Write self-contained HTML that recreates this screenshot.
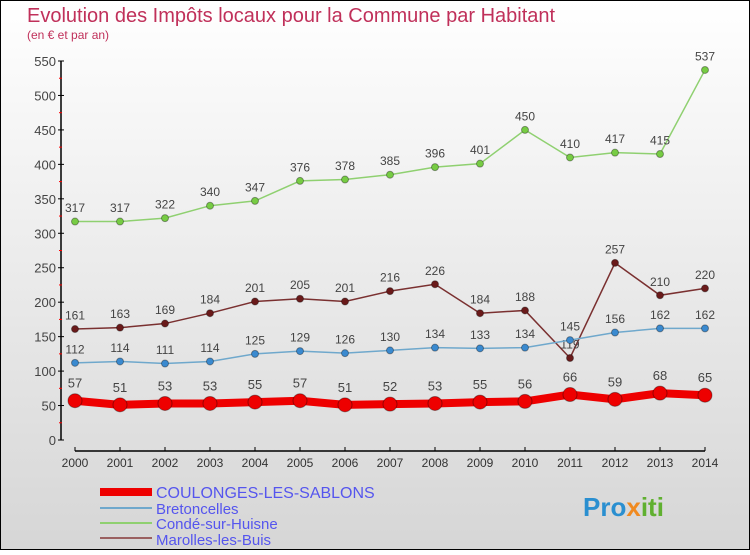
<!DOCTYPE html>
<html><head><meta charset="utf-8"><style>
body{margin:0;width:750px;height:550px;overflow:hidden;font-family:"Liberation Sans",sans-serif}
</style></head><body>
<svg id="c" width="750" height="550" xmlns="http://www.w3.org/2000/svg">
<defs><linearGradient id="bg" x1="0" y1="0" x2="0" y2="1"><stop offset="0" stop-color="#ffffff"/><stop offset="1" stop-color="#d6d6d6"/></linearGradient></defs>
<rect x="0.5" y="0.5" width="749" height="549" fill="url(#bg)" stroke="#000"/>
<text x="27" y="22" font-size="20" fill="#c0305a">Evolution des Impôts locaux pour la Commune par Habitant</text>
<text x="27" y="39" font-size="12" fill="#c0305a">(en € et par an)</text>
<g id="axes"></g>
<g id="series"></g>
<g>
<line x1="100" y1="492" x2="152" y2="492" stroke="#ee0000" stroke-width="8"/>
<text x="156" y="498" font-size="16" fill="#5555ee">COULONGES-LES-SABLONS</text>
<line x1="100" y1="508" x2="152" y2="508" stroke="#6fa8cc" stroke-width="2"/>
<text x="156" y="514" font-size="15" fill="#5555ee">Bretoncelles</text>
<line x1="100" y1="523" x2="152" y2="523" stroke="#8fd070" stroke-width="2"/>
<text x="156" y="529" font-size="15" fill="#5555ee">Condé-sur-Huisne</text>
<line x1="100" y1="538" x2="152" y2="538" stroke="#9a6060" stroke-width="2"/>
<text x="156" y="545" font-size="15" fill="#5555ee">Marolles-les-Buis</text>
</g>
<text x="583" y="516" font-size="26" font-weight="bold" fill="#2a8fd0">Pro<tspan fill="#f08a20">x</tspan><tspan fill="#60b030">iti</tspan></text>
</svg>
<script>
const years=[2000,2001,2002,2003,2004,2005,2006,2007,2008,2009,2010,2011,2012,2013,2014];
const yTicks=[0,50,100,150,200,250,300,350,400,450,500,550];
const coulonges=[57,51,53,53,55,57,51,52,53,55,56,66,59,68,65];
const bretoncelles=[112,114,111,114,125,129,126,130,134,133,134,145,156,162,162];
const conde=[317,317,322,340,347,376,378,385,396,401,450,410,417,415,537];
const marolles=[161,163,169,184,201,205,201,216,226,184,188,119,257,210,220];
const NS='http://www.w3.org/2000/svg';
const X=i=>75+i*45, Y=v=>440-v*(379/550);
function mk(t,a,p){const e=document.createElementNS(NS,t);for(const k in a)e.setAttribute(k,a[k]);p.appendChild(e);return e;}
const ax=document.getElementById('axes');
let l=mk('line',{x1:61,y1:Y(550),x2:61,y2:440,stroke:'#000','stroke-width':1.5},ax);


l=mk('line',{x1:75,y1:451,x2:705,y2:451,stroke:'#000','stroke-width':1.5},ax);


yTicks.forEach((v,i)=>{
 mk('line',{x1:58,y1:Y(v),x2:64,y2:Y(v),stroke:'#000'},ax);
 if(i<yTicks.length-1) mk('line',{x1:59,y1:Y(v+25),x2:62,y2:Y(v+25),stroke:'#f00'},ax);
 const t=mk('text',{x:56,y:Y(v)+5,'font-size':13,fill:'#444','text-anchor':'end'},ax);t.textContent=v;
 
 
});
years.forEach((y,i)=>{
 mk('line',{x1:X(i),y1:447,x2:X(i),y2:451,stroke:'#000'},ax);
 const t=mk('text',{x:X(i),y:467,'font-size':12,fill:'#333','text-anchor':'middle'},ax);t.textContent=y;
 
 
});
const sg=document.getElementById('series');
function draw(d,name,col,dot,w,r,fs){
 const g=mk('g',{},sg);
 
 
 mk('polyline',{points:d.map((v,i)=>X(i)+','+Y(v)).join(' '),fill:'none',stroke:col,'stroke-width':w},g);
 d.forEach((v,i)=>{
  const c=mk('circle',{cx:X(i),cy:Y(v),r:r,fill:dot,stroke:'rgba(0,0,0,0.35)','stroke-width':1},g);
  
  
  const t=mk('text',{x:X(i),y:Y(v)-r-6,'font-size':fs,fill:'#444','text-anchor':'middle'},g);t.textContent=v;
  
  
 });
}
draw(conde,'conde','#8fd070','#77cc44',1.5,3.5,12);
draw(marolles,'marolles','#7a3030','#6a1a1a',1.5,3.5,12);
draw(bretoncelles,'bretoncelles','#6fa8cc','#3a8ad0',1.5,3.5,12);
draw(coulonges,'coulonges','#ee0000','#ee0000',8,7,13);
</script>
</body></html>
